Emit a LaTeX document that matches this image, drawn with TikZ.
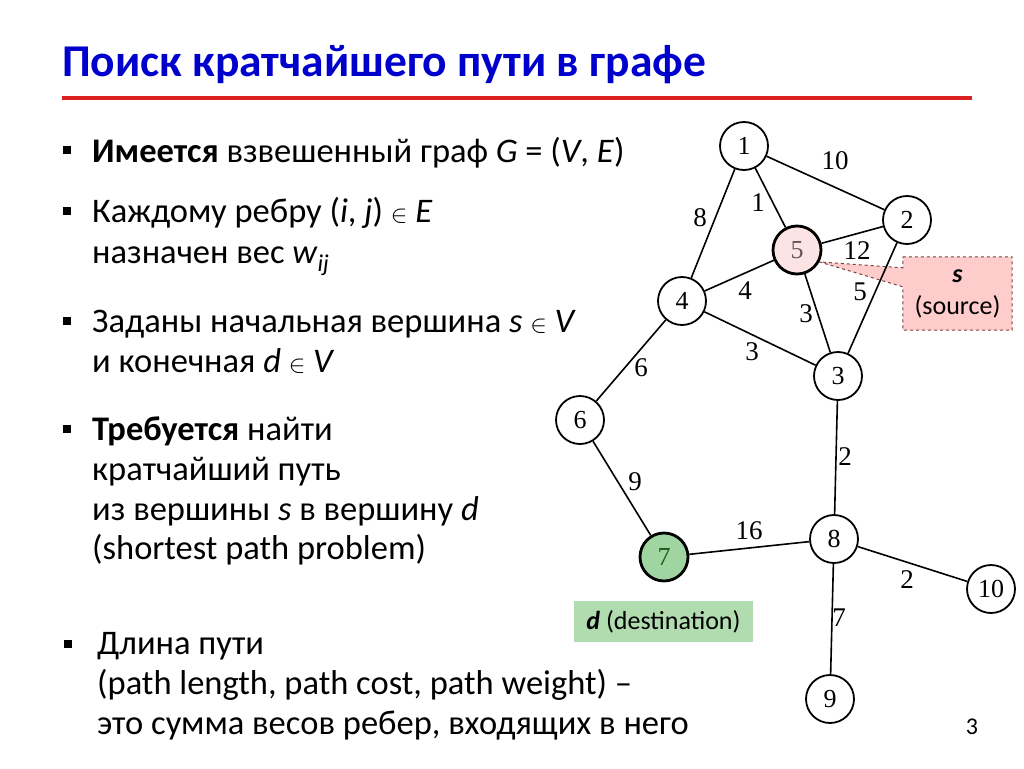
\documentclass[tikz,border=0pt]{standalone}
\usepackage{fontspec}
\setmainfont{Carlito}
\newfontfamily\grfont{Liberation Serif}
\usetikzlibrary{calc,backgrounds}
\definecolor{titleblue}{RGB}{0,0,204}
\definecolor{rulered}{RGB}{218,32,32}
\definecolor{srcpink}{RGB}{255,204,204}
\definecolor{srcline}{RGB}{120,70,70}
\definecolor{srcfill}{RGB}{252,228,228}
\definecolor{srctext}{RGB}{110,85,85}
\definecolor{dstgreen}{RGB}{176,220,176}
\definecolor{dstfill}{RGB}{160,212,160}
\definecolor{dsttext}{RGB}{30,90,30}
\newcommand{\vtxsize}{48pt}
\newcommand{\grsize}{\fontsize{26}{26}\selectfont}
\newcommand{\wtsize}{\fontsize{27}{27}\selectfont}
\newcommand{\txtsize}{\fontsize{34.5}{40}\selectfont}
\tikzset{vtx/.style={circle, draw, fill=white, line width=1.8pt, inner sep=0pt, minimum size=\vtxsize, font=\grfont\grsize}}
\tikzset{wt/.style={draw=none, fill=none, inner sep=0pt, font=\grfont\wtsize}}
\tikzset{edge/.style={line width=1.6pt}}
\tikzset{txt/.style={anchor=base west, inner sep=0pt, font=\txtsize}}
\tikzset{sq/.style={rectangle, fill=black, inner sep=0pt, minimum size=8.5pt}}
\tikzset{lbl/.style={inner sep=0pt, font=\fontsize{26}{32}\selectfont, align=center}}

\begin{document}
\begin{tikzpicture}[x=1pt,y=-1pt]
\useasboundingbox (0,0) rectangle (1024,768);

% title
\node[anchor=base west, inner sep=0pt, text=titleblue, font=\fontsize{45.5}{52}\selectfont\bfseries] (title) at (62,76) {Поиск кратчайшего пути в графе};
\draw[rulered, line width=4pt] (62,98) -- (972,98);

% text
\node[sq] (b1) at (67,150) {};
\node[txt] (t1) at (92,162) {\textbf{Имеется} взвешенный граф \textit{G} = (\textit{V}, \textit{E})};
\node[sq] (b2) at (67,211) {};
\node[txt] (t2) at (92,222) {Каждому ребру (\textit{i}, \textit{j}) $\in$ \textit{E}};
\node[txt] (t3) at (92,263) {назначен вес \textit{w}\textsubscript{\textit{ij}}};
\node[sq] (b3) at (67,321) {};
\node[txt] (t4) at (92,332) {Заданы начальная вершина \textit{s} $\in$ \textit{V}};
\node[txt] (t5) at (92,372) {и конечная \textit{d} $\in$ \textit{V}};
\node[sq] (b4) at (67,429) {};
\node[txt] (t6) at (92,440) {\textbf{Требуется} найти};
\node[txt] (t7) at (92,480) {кратчайший путь};
\node[txt] (t8) at (92,520) {из вершины \textit{s} в вершину \textit{d}};
\node[txt] (t9) at (92,559) {(shortest path problem)};
\node[sq] (b5) at (68,644) {};
\node[txt] (t10) at (97,654) {Длина пути};
\node[txt] (t11) at (97,694) {(path length, path cost, path weight) --};
\node[txt] (t12) at (97,734) {это сумма весов ребер, входящих в него};

% graph
\node[vtx] (v1) at (744,146) {1};
\node[vtx] (v2) at (907,220) {2};
\node[vtx] (v3) at (838,376) {3};
\node[vtx] (v4) at (682,301) {4};
\node[vtx, fill=srcfill, line width=2.8pt, text=srctext] (v5) at (797,250) {5};
\node[vtx] (v6) at (580,420) {6};
\node[vtx, fill=dstfill, line width=2.8pt, text=dsttext] (v7) at (664,557) {7};
\node[vtx] (v8) at (834,539) {8};
\node[vtx] (v9) at (830,699) {9};
\node[vtx] (v10) at (991,589) {10};

\draw[edge] (v1) -- (v2);
\draw[edge] (v1) -- (v5);
\draw[edge] (v1) -- (v4);
\draw[edge] (v5) -- (v2);
\draw[edge] (v4) -- (v5);
\draw[edge] (v5) -- (v3);
\draw[edge] (v2) -- (v3);
\draw[edge] (v4) -- (v3);
\draw[edge] (v4) -- (v6);
\draw[edge] (v3) -- (v8);
\draw[edge] (v6) -- (v7);
\draw[edge] (v7) -- (v8);
\draw[edge] (v8) -- (v10);
\draw[edge] (v8) -- (v9);

\node[wt] (w12) at (835,161) {10};
\node[wt] (w15) at (758,203) {1};
\node[wt] (w14) at (700,218) {8};
\node[wt] (w52) at (857,251) {12};
\node[wt] (w45) at (745,291) {4};
\node[wt] (w53) at (806,314) {3};
\node[wt] (w23) at (860,292) {5};
\node[wt] (w43) at (752,352) {3};
\node[wt] (w46) at (641,368) {6};
\node[wt] (w38) at (845,457) {2};
\node[wt] (w67) at (635,482) {9};
\node[wt] (w78) at (749,531) {16};
\node[wt] (w810) at (907,580) {2};
\node[wt] (w89) at (839,618) {7};

% source / destination
\node[lbl, minimum width=109pt, minimum height=73pt] (src) at (957.5,293.5) {\textbf{\textit{s}}\\(source)};
\coordinate (tip) at (v5.-28);
\begin{pgfonlayer}{background}
\draw[srcline, fill=srcpink, dashed, line width=1pt] (src.north west) -- (src.north east) -- (src.south east) -- (src.south west) -- ($(src.north west)+(0,30)$) -- (tip) -- ($(src.north west)+(0,11)$) -- cycle;
\end{pgfonlayer}
\node[lbl, fill=dstgreen, minimum width=179pt, minimum height=41pt] (dst) at (663.5,621.5) {\textbf{\textit{d}} (destination)};

\node[inner sep=0pt, font=\fontsize{24}{28}\selectfont] (pg) at (972,727) {3};

\end{tikzpicture}
\end{document}
